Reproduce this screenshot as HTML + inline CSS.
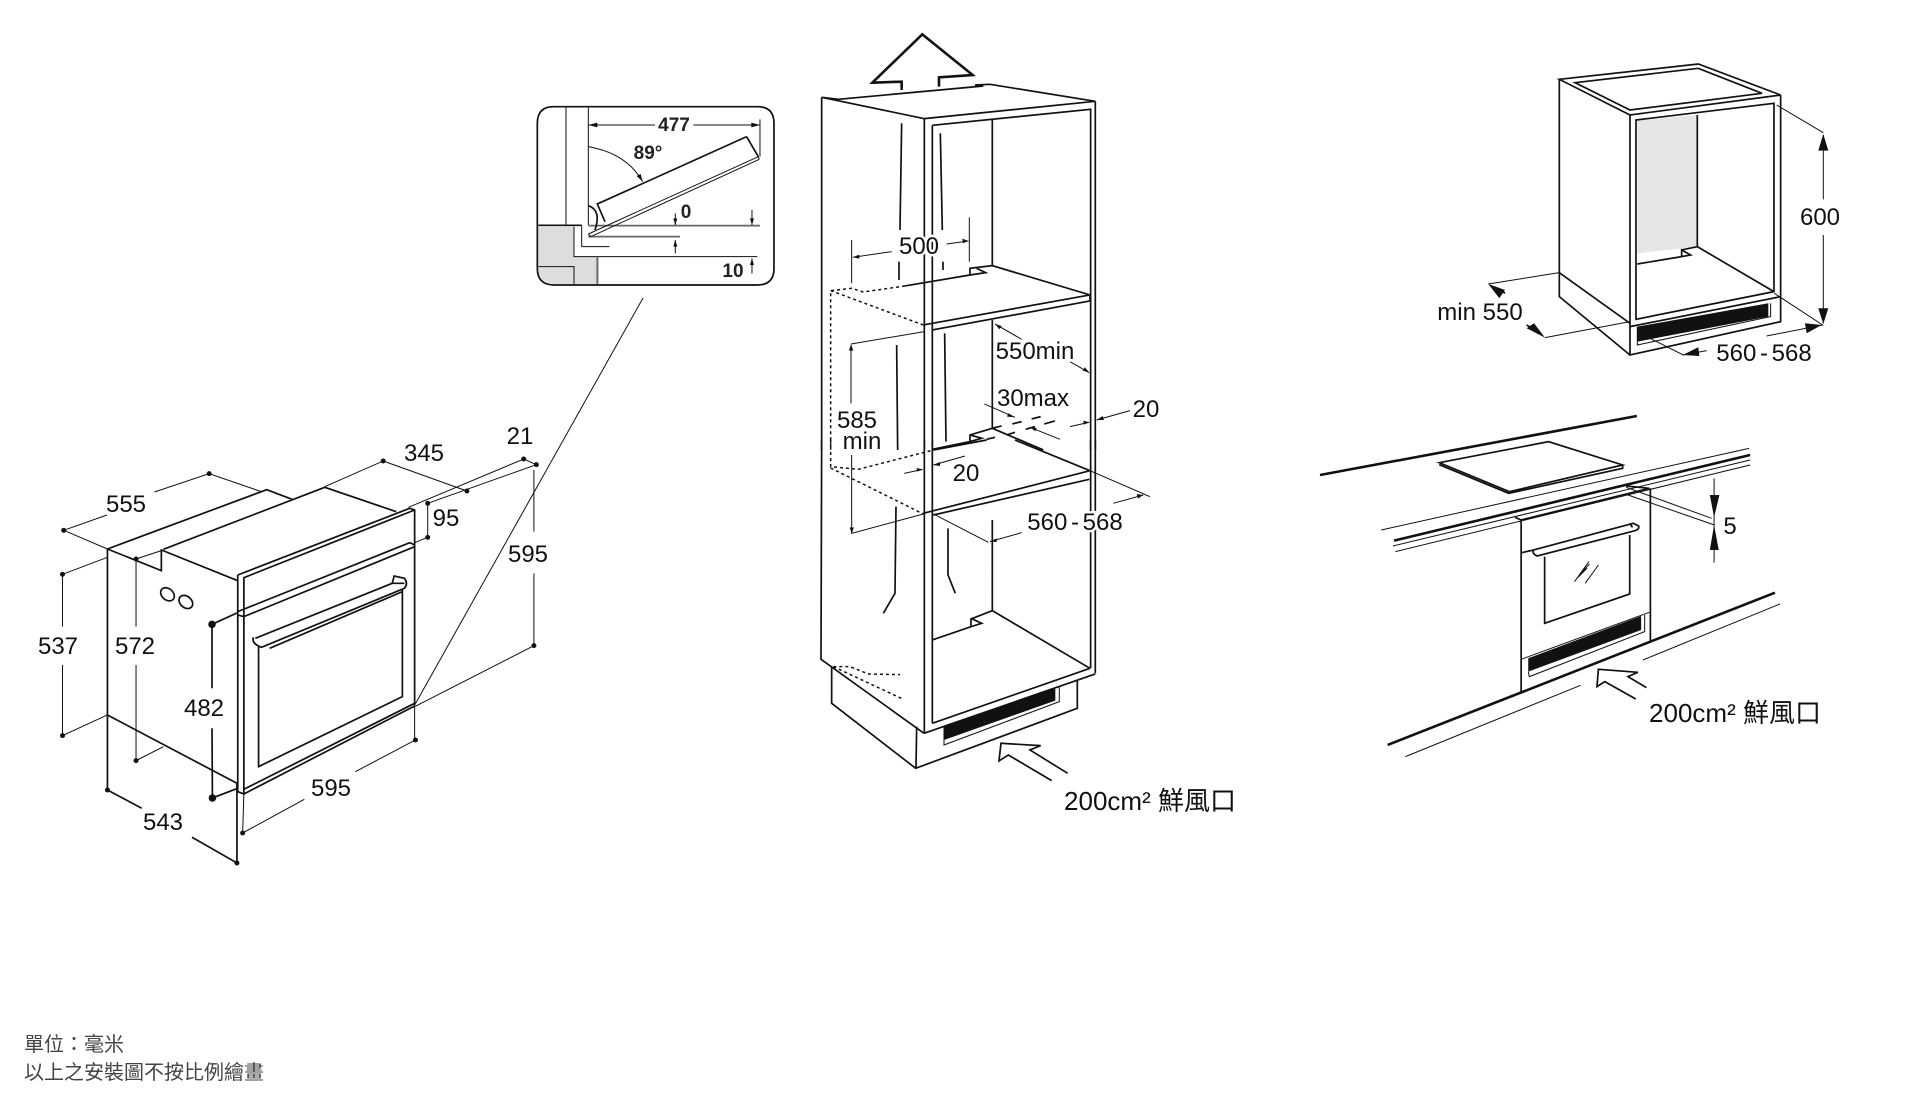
<!DOCTYPE html>
<html><head><meta charset="utf-8">
<style>
html,body{margin:0;padding:0;background:#fff;width:1914px;height:1108px;overflow:hidden}
svg{display:block}
path,ellipse{vector-effect:non-scaling-stroke;fill:none;stroke:#111;stroke-linejoin:miter}
.t{stroke-width:1}
.m{stroke-width:1.7}
.k{stroke-width:2.6}
.d{stroke-width:1.5;stroke-dasharray:3 3}
.f{fill:#111;stroke:none}
.dot{stroke-width:5;stroke-linecap:round}
.dot2{stroke-width:7.5;stroke-linecap:round}
.g{stroke:#666}
text{font-family:"Liberation Sans","Noto Sans CJK TC",sans-serif;font-size:24px;fill:#111;text-anchor:middle;paint-order:stroke;stroke:#fff;stroke-width:5px}
.n{stroke:none}
.w{word-spacing:-3px}
.c{font-size:26px}
.b{font-weight:bold;font-size:19px;fill:#222;stroke:none}
.s{font-size:20px;fill:#444;text-anchor:start;stroke:none}
</style></head><body>
<svg width="1914" height="1108" viewBox="0 0 1914 1108" xmlns="http://www.w3.org/2000/svg">
<rect width="1914" height="1108" fill="#fff"/>

<!-- Oven -->
<g transform="translate(0,420) scale(.4085,.3333)">
<path class="m" d="M263,387L653,209L715,238M400,388L795,202L970,275M263,387L395,452V390L582,482M263,387V885L580,1090M582,465L1003,265L1015,270V855M582,465V1115L597,1122V473L1015,270M582,575L1003,368L1015,375M582,585L597,590L1015,380M597,1122L1015,858M597,1108L1015,850M633,680V1040L985,830V510"/>
<path class="m" d="M620,652Q616,672 640,682L990,505Q1000,490 990,475L965,468L960,490L990,490M625,655L960,490M660,685L985,515"/>
<ellipse class="m" cx="410" cy="523" rx="15" ry="21" transform="rotate(-30 410 523)"/>
<ellipse class="m" cx="455" cy="546" rx="15" ry="21" transform="rotate(-30 455 546)"/>
<path class="t" d="M156,331L262,285M378,216L512,161L640,215M156,331L263,387M938,123L795,200M938,123L1143,213M1000,262L1282,117L1313,134L1047,250M1047,250V352L1015,368M1307,150V335M1307,460V677L1015,860M153,463V620M153,735V947L263,885M153,463L263,412M333,417V620M333,735V1022L400,980M333,417L395,392"/>
<path class="m" d="M519,613V805M519,925L520,1134L582,1105M519,613L582,578M263,885V1110L347,1165M470,1252L580,1329V1090"/>
<path class="t" d="M1017,960L870,1055M745,1138L594,1239L597,1120M1015,855V960"/>
<path class="dot" d="M156,331h0M512,161h0M938,123h0M1143,213h0M1282,117h0M1313,134h0M1047,250h0M1047,352h0M1307,677h0M153,463h0M153,947h0M333,417h0M333,1022h0M263,1110h0M580,1329h0M1017,960h0M594,1239h0"/>
<path class="dot2" d="M519,613h0M520,1134h0"/>
</g>
<path class="t" d="M643,298L413,708"/>

<text x="126" y="512">555</text>
<text x="424" y="461">345</text>
<text x="520" y="444">21</text>
<text x="446" y="526">95</text>
<text x="528" y="562">595</text>
<text x="58" y="654">537</text>
<text x="135" y="654">572</text>
<text x="204" y="716">482</text>
<text x="331" y="796">595</text>
<text x="163" y="830">543</text>

<!-- Hinge inset -->
<g transform="translate(520,90) scale(.3333)">
<path d="M55,410H162V500H232V582H100Q55,582 55,540Z" style="fill:#ddd;stroke:none"/>
<path class="m" d="M100,50H712Q762,50 762,100V535Q762,585 712,585H102Q52,585 52,535V100Q52,50 100,50Z"/>
<path class="t" d="M138,50V405M205,50V405M185,406V470H268M162,410V500H712M55,530H162V582M205,105H405M520,105H720M720,88V200M205,170Q320,190 368,275"/>
<path class="m" d="M55,406H185M232,500V582"/>
<path class="m g" d="M205,407H720M205,440H480M232,500V582"/>
<path class="t" d="M205,432L715,200M212,440L718,208M205,432L212,440M715,200L718,208"/>
<path class="m" d="M680,140L715,200M680,140L232,342L255,395M205,347Q245,360 225,420"/>
<path class="t" d="M466,370V405M696,360V405M466,450V490M696,505V550"/>
<path class="f" d="M205,105L232,98V112ZM720,105L694,98V112ZM368,275L350,258L362,252ZM466,405L460,385H472ZM696,405L690,385H702ZM466,450L460,470H472ZM696,505L690,525H702Z"/>
</g>
<text class="b" x="674" y="131">477</text>
<text class="b" x="648" y="159">89°</text>
<text class="b" x="686" y="218">0</text>
<text class="b" x="733" y="277">10</text>

<!-- Tall cabinet upper -->
<g transform="translate(800,20) scale(.3333)">
<path class="k" d="M305,210V185L217,188L367,43L518,165L417,172V200"/>
<path class="m" d="M115,238L550,198L525,195L570,193L886,244L373,296L65,232L115,238M65,232V1290M886,244V1290M373,296V1290M397,316V1290M397,316L872,268V1290M577,300V735"/>
<path class="m" d="M305,310L300,630M297,725V780M421,340L427,630M429,725V750M290,975L293,1290M434,940L438,1265M577,900V1225"/>
<path class="t" d="M155,660V790M158,712L275,695M440,672L505,663M508,592V725M585,912L665,958M810,1025L868,1058M553,1152L645,1192M780,1258L690,1222M890,1200L990,1172M810,1220L868,1207M153,972L373,935M153,975V1150"/>
<path class="f" d="M158,712L178,704L178,716ZM505,663L487,656L489,670ZM585,912L605,918L598,928ZM868,1058L848,1052L855,1042ZM645,1192L625,1180L621,1190ZM690,1222L710,1224L706,1234ZM890,1200L908,1188L912,1200ZM868,1207L850,1202L852,1214ZM153,972L147,992H160Z"/>
<path class="m" d="M510,765V745L577,737L870,825V843L397,930M510,765L557,758L530,745M510,765L315,798M370,915L870,825"/>
<path class="d" d="M315,798L190,816L155,805L92,812V1290M92,812L370,915"/>
<path class="m" d="M580,1224L605,1218M637,1212L665,1205M695,1197L722,1190M560,1258L585,1252M620,1245L645,1237M677,1228L705,1220M733,1212L765,1203"/>
<path class="m" d="M510,1265V1245L577,1225L730,1290M397,1288L510,1265L545,1255L510,1245"/>
</g>
<text x="919" y="254">500</text>
<text x="1035" y="359">550min</text>
<text x="1033" y="406">30max</text>
<text x="1146" y="417">20</text>
<text class="n" x="857" y="428">585</text>
<text class="n" x="862" y="449">min</text>

<!-- Tall cabinet lower -->
<g transform="translate(800,440) scale(.3333)">
<path class="m" d="M65,0L63,658L372,880M373,0V880M397,0V850M872,0V685M886,0V700M645,0L870,92"/>
<path class="d" d="M92,0V80L175,88L400,30M92,84L370,222"/>
<path class="m" d="M400,30L560,0M370,220L870,92M400,225L868,118"/>
<path class="t" d="M870,92L1050,170M940,190L1030,165M400,222L565,307M570,305L665,278M155,45V280L370,222M313,100L368,88M400,75L495,48"/>
<path class="f" d="M1030,165L1010,162L1014,176ZM570,305L590,295L590,306ZM155,280L149,262H162ZM368,88L350,84L352,95ZM400,75L420,66L420,78Z"/>
<path class="m" d="M288,200L285,460L250,520M444,265V405L466,460M577,240V512L513,537V560L545,550L513,535M577,512L870,685M397,600L513,560M397,850L870,685M372,880L886,702"/>
<path class="m" d="M95,680V790L347,985L832,805V722M350,860L348,985"/>
<path class="f" d="M432,857L766,742V782L432,900Z"/>
<path class="t" d="M432,857V915L778,785V740"/>
<path class="d" d="M100,680L150,680L205,702L300,704M100,680L310,778"/>
<path class="m" d="M755,1022L625,945L597,963L603,910L722,917L690,930L803,1000"/>
</g>
<text x="966" y="481">20</text>
<text class="w" x="1075" y="530">560 - 568</text>
<text class="c" x="1150" y="810">200cm² 鮮風口</text>

<!-- Base cabinet -->
<g transform="translate(1430,60) scale(.3333)">
<path d="M622,182L802,165V560L622,580Z" style="fill:#e6e6e6;stroke:none"/>
<path class="m" d="M388,58L805,12L1052,105L600,165ZM435,68L805,25L996,100L600,150ZM388,58V710L600,885M388,638L600,790M600,165V885L1052,785V105M618,180L1032,130V695L618,778ZM802,165V560L1032,695M622,612L755,590V570L782,585L755,590M802,560L755,570M600,800L1052,710"/>
<path class="f" d="M622,800L1015,730V770L622,845Z"/>
<path class="t" d="M622,800V855L1022,770V730"/>
<path class="t" d="M1040,135L1180,218M1180,225V418M1180,525V790M1033,700L1178,795L1010,828M388,638L175,672M600,785L345,833M640,825L760,885L830,872"/>
<path class="f" d="M1180,222L1165,272H1195ZM1180,792L1165,745H1195ZM1175,795L1125,790L1130,820ZM175,672L225,690L208,715ZM345,833L290,805L312,790ZM758,885L805,862L808,888Z"/>
<path class="m" d="M225,700L205,685M290,795L320,815"/>
</g>
<text x="1820" y="225">600</text>
<text x="1480" y="320">min 550</text>
<text class="w" x="1764" y="361">560 - 568</text>

<!-- Built-in counter -->
<g transform="translate(1320,410) scale(.356,.3333)">
<path class="k" d="M0,195L890,18M190,1005L1278,548"/>
<path class="m" d="M335,158L642,95L850,165L532,245ZM335,164L530,250L850,175V165M208,392L1208,135"/>
<path class="k" d="M208,392L1208,135"/>
<path class="t" d="M172,360L1205,115M205,408L1208,150M212,425L1208,165"/>
<path class="m" d="M565,330V845M928,235V695M548,322L565,330L925,235L860,228M567,428L600,420M631,440V640L870,552V375M600,420L880,340L895,348Q898,358 885,362L610,438Q595,432 600,420M870,340L878,352"/>
<path class="t" d="M715,515L755,455M722,505L750,475M745,520L782,465M728,495L757,462"/>
<path class="f" d="M585,745L902,618V660L585,785Z"/>
<path class="t" d="M585,785L588,800L912,665V615M565,748L925,607"/>
<path class="m" d="M887,867L800,815L778,830L782,778L893,787L865,800L917,833"/>
<path class="t" d="M860,232L1100,325M865,255L1108,345M240,1040L732,826M907,750L1292,582M1107,205V458"/>
<path class="f" d="M1107,322L1095,255H1122ZM1107,345L1095,420H1120Z"/>
</g>
<text x="1730" y="534">5</text>
<text class="c" x="1735" y="722">200cm² 鮮風口</text>

<text class="s" x="24" y="1051">單位：毫米</text>
<text class="s" x="24" y="1079">以上之安裝圖不按比例繪畫</text>
</svg>
</body></html>
